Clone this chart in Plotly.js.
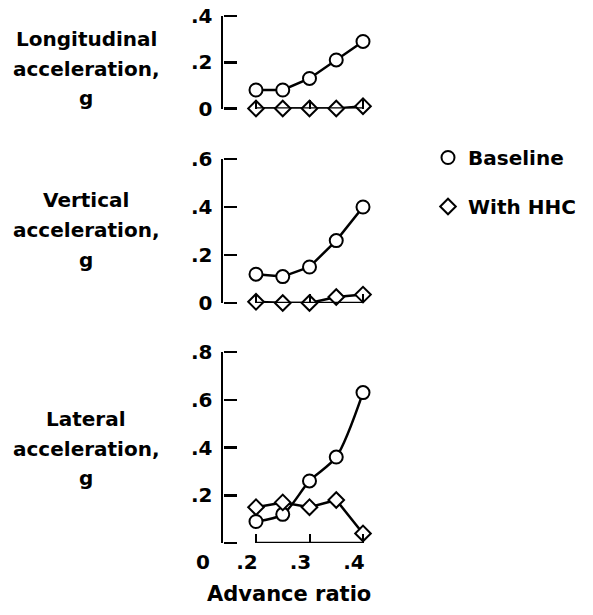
<!DOCTYPE html>
<html><head><meta charset="utf-8">
<script src="https://cdn.plot.ly/plotly-3.0.1.min.js"></script>
<style>html,body{margin:0;padding:0;background:#fff}</style>
</head><body><div id="chart" style="width:593px;height:615px"></div>
<script>
// ---- data ----
const advanceRatio = [0.2, 0.25, 0.3, 0.35, 0.4];
const longBaseline = [0.08, 0.08, 0.13, 0.21, 0.29];
const longHHC      = [0.0, 0.0, 0.0, 0.0, 0.01];
const vertBaseline = [0.12, 0.11, 0.15, 0.26, 0.40];
const vertHHC      = [0.005, 0.0, 0.0, 0.025, 0.035];
const latBaseline  = [0.09, 0.12, 0.26, 0.36, 0.63];
const latHHC       = [0.15, 0.17, 0.15, 0.18, 0.04];
const seriesNames  = ["Baseline", "With HHC"];
const panelTitles  = [["Longitudinal", "acceleration,", "g"], ["Vertical", "acceleration,", "g"], ["Lateral", "acceleration,", "g"]];
const xTickVals = [0.2, 0.3, 0.4];
const xTickText = [".2", ".3", ".4"];
const xBreakLabel = "0";
const xTitle = "Advance ratio";
const yTicks1 = [0, 0.2, 0.4], yText1 = ["0", ".2", ".4"];
const yTicks2 = [0, 0.2, 0.4, 0.6], yText2 = ["0", ".2", ".4", ".6"];
const yTicks3 = [0, 0.2, 0.4, 0.6, 0.8], yText3 = ["", ".2", ".4", ".6", ".8"];
const yRanges = [[0, 0.4], [0, 0.6], [0, 0.8]];

const FONT = "DejaVu Sans";
const panels = [
  {b: longBaseline, h: longHHC, xa: "x", ya: "y", la: "y4", bshape: "linear"},
  {b: vertBaseline, h: vertHHC, xa: "x2", ya: "y2", la: "y5", bshape: "linear"},
  {b: latBaseline, h: latHHC, xa: "x3", ya: "y3", la: "y6", bshape: "spline"}
];
const traces = [];
panels.forEach(p => {
  // invisible carrier so the tick-only overlay axis is drawn
  traces.push({x: advanceRatio, y: p.b, xaxis: p.xa, yaxis: p.la, mode: "lines",
    line: {color: "rgba(0,0,0,0)", width: 0}, showlegend: false, hoverinfo: "skip"});
  traces.push({x: advanceRatio, y: p.b, xaxis: p.xa, yaxis: p.ya, mode: "lines",
    line: {color: "black", width: 2.5, shape: p.bshape, smoothing: 0.8}, showlegend: false, hoverinfo: "skip"});
  traces.push({x: advanceRatio, y: p.h, xaxis: p.xa, yaxis: p.ya, mode: "lines",
    line: {color: "black", width: 2.5}, showlegend: false, hoverinfo: "skip"});
});
panels.forEach((p, i) => {
  traces.push({x: advanceRatio, y: p.b, xaxis: p.xa, yaxis: p.ya, mode: "markers", name: seriesNames[0],
    legendgroup: "a", showlegend: i === 0, cliponaxis: false,
    marker: {symbol: "circle", size: 13, color: "white", line: {color: "black", width: 2}}});
  traces.push({x: advanceRatio, y: p.h, xaxis: p.xa, yaxis: p.ya, mode: "markers", name: seriesNames[1],
    legendgroup: "b", showlegend: i === 0, cliponaxis: false,
    marker: {symbol: "diamond", size: 12, color: "white", line: {color: "black", width: 2}}});
});

const W = 593, H = 615;
const px = v => v / W, py = v => (H - v) / H;
const xdom = [px(223), px(375)];
const xr = [0.2 - 33 / 535, 0.4 + 12 / 535];
const tickFont = {family: FONT, size: 20, color: "black", weight: "bold"};
function xax(show) {
  return {domain: xdom, range: xr, showline: false, showgrid: false, zeroline: false,
    ticks: "inside", tickvals: xTickVals, ticktext: xTickText, ticklen: 9, tickwidth: 2, tickcolor: "black",
    showticklabels: show, tickfont: tickFont, ticklabelshift: -9, ticklabelstandoff: 5, fixedrange: true};
}
// main y axes: line + labels
function yax(dom, rng, tv, tt, anchor) {
  return {domain: dom, range: rng, anchor: anchor, showline: true, linewidth: 2.5, linecolor: "black",
    showgrid: false, zeroline: false, ticks: "outside", ticklen: 4, tickcolor: "rgba(0,0,0,0)",
    tickvals: tv, ticktext: tt, showticklabels: true, tickfont: tickFont, fixedrange: true};
}
// overlay y axes on the right side of the same line: ticks pointing into the plot
function ytick(over, rng, tv) {
  return {overlaying: over, side: "right", anchor: "free", position: px(223), range: rng, showline: false,
    showgrid: false, zeroline: false, ticks: "outside", ticklen: 13, tickwidth: 2.5, tickcolor: "black",
    tickvals: tv, showticklabels: false, fixedrange: true};
}
const shapes = ["", "2", "3"].map(s => ({type: "line", xref: "x" + s, yref: "y" + s,
  x0: xTickVals[0], x1: xTickVals[xTickVals.length - 1], y0: 0, y1: 0, line: {color: "black", width: 2.5}}));

const titleLineY = [[39, 69, 98], [200, 230, 260], [419, 449, 478]];
const annotations = [];
panelTitles.forEach((lines, i) => lines.forEach((t, j) => annotations.push({
  text: t, xref: "paper", yref: "paper", x: px(86), y: py(titleLineY[i][j]),
  xanchor: "center", yanchor: "middle", showarrow: false,
  font: {family: FONT, size: 20, color: "black", weight: "bold"}})));
annotations.push({text: xBreakLabel, xref: "paper", yref: "paper", x: px(203), y: py(562), xanchor: "center", yanchor: "middle",
  showarrow: false, font: tickFont});
annotations.push({text: xTitle, xref: "paper", yref: "paper", x: px(289), y: py(594), xanchor: "center", yanchor: "middle",
  showarrow: false, font: {family: FONT, size: 21, color: "black", weight: "bold"}});

const layout = {
  width: W, height: H, margin: {l: 0, r: 0, t: 0, b: 0},
  paper_bgcolor: "white", plot_bgcolor: "rgba(0,0,0,0)",
  xaxis: Object.assign(xax(false), {anchor: "y"}),
  xaxis2: Object.assign(xax(false), {anchor: "y2"}),
  xaxis3: Object.assign(xax(true), {anchor: "y3"}),
  yaxis: yax([py(108.5), py(16)], yRanges[0], yTicks1, yText1, "x"),
  yaxis2: yax([py(303), py(159)], yRanges[1], yTicks2, yText2, "x2"),
  yaxis3: yax([py(543), py(352)], yRanges[2], yTicks3, yText3, "x3"),
  yaxis4: ytick("y", yRanges[0], yTicks1),
  yaxis5: ytick("y2", yRanges[1], yTicks2),
  yaxis6: ytick("y3", yRanges[2], yTicks3),
  shapes: shapes, annotations: annotations,
  showlegend: true,
  legend: {x: px(428), y: py(138), xanchor: "left", yanchor: "top", traceorder: "grouped", tracegroupgap: 20,
    font: {family: FONT, size: 20, color: "black", weight: "bold"}, bgcolor: "rgba(0,0,0,0)", itemclick: false},
  hovermode: false
};
Plotly.newPlot("chart", traces, layout, {displayModeBar: false, staticPlot: true});
</script></body></html>
